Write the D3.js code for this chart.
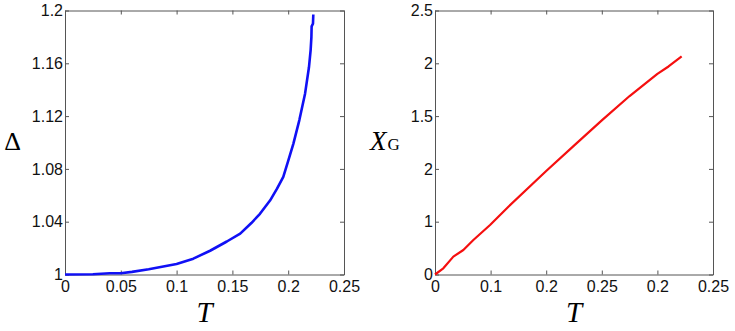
<!DOCTYPE html>
<html>
<head>
<meta charset="utf-8">
<script src="https://cdn.jsdelivr.net/npm/d3@7"></script>
<style>
  body { margin: 0; background: #fff; }
  svg text { font-family: "Liberation Sans", Arial, sans-serif; }
</style>
</head>
<body>
<div id="chart"></div>
<script>
// left panel: gap vs temperature
const deltaT = [0, 0.025, 0.04, 0.05, 0.06, 0.075, 0.1, 0.115, 0.13, 0.145, 0.157, 0.167, 0.1747, 0.1837, 0.19, 0.1956, 0.2, 0.2046, 0.21, 0.2151, 0.2186, 0.2201, 0.2208, 0.221, 0.2222, 0.2225];
const deltaV = [1, 1.0002, 1.001, 1.001, 1.002, 1.004, 1.008, 1.012, 1.018, 1.025, 1.031, 1.039, 1.046, 1.056, 1.065, 1.074, 1.086, 1.099, 1.117, 1.137, 1.157, 1.170, 1.180, 1.188, 1.190, 1.197];

// right panel: X_G vs temperature
const xgT = [0, 0.0075, 0.0165, 0.0255, 0.0345, 0.0495, 0.066, 0.1, 0.125, 0.15, 0.175, 0.2, 0.21, 0.2218];
const xgV = [0, 0.059, 0.169, 0.232, 0.327, 0.469, 0.642, 0.98, 1.22, 1.46, 1.69, 1.9, 1.97, 2.066];

const xTicks = [0, 0.05, 0.1, 0.15, 0.2, 0.25];
const leftXLabels = ['0', '0.05', '0.1', '0.15', '0.2', '0.25'];
const leftYTicks = [1, 1.04, 1.08, 1.12, 1.16, 1.2];
const leftYLabels = ['1', '1.04', '1.08', '1.12', '1.16', '1.2'];
const rightXLabels = ['0', '0.1', '0.2', '0.25', '0.2', '0.25'];
const rightYTicks = [0, 0.5, 1, 1.5, 2, 2.5];
const rightYLabels = ['0', '1', '2', '1.5', '2', '2.5'];

const svg = d3.select('#chart').append('svg')
  .attr('width', 735)
  .attr('height', 331);

function panel(opts) {
  const x = d3.scaleLinear().domain([0, 0.25]).range([opts.left, opts.right]);
  const y = d3.scaleLinear().domain(opts.yDomain).range([274.5, 10.5]);
  const g = svg.append('g');

  const tick = 4;
  const ax = (axis) => axis.tickSizeOuter(0);

  // bottom + left with labels, inward ticks
  g.append('g')
    .attr('transform', 'translate(0,274.5)')
    .call(ax(d3.axisBottom(x).tickValues(xTicks).tickSizeInner(-tick).tickPadding(6)
      .tickFormat((d, i) => opts.xLabels[i])));
  g.append('g')
    .attr('transform', `translate(${opts.left},0)`)
    .call(ax(d3.axisLeft(y).tickValues(opts.yTicks).tickSizeInner(-tick).tickPadding(2)
      .tickFormat((d, i) => opts.yLabels[i])));
  // top + right ticks only
  g.append('g')
    .attr('transform', 'translate(0,10.5)')
    .call(ax(d3.axisTop(x).tickValues(xTicks).tickSizeInner(-tick).tickFormat('')));
  g.append('g')
    .attr('transform', `translate(${opts.right},0)`)
    .call(ax(d3.axisRight(y).tickValues(opts.yTicks).tickSizeInner(-tick).tickFormat('')));

  g.selectAll('.domain, .tick line').attr('stroke', '#555');
  g.selectAll('.tick text')
    .attr('fill', '#111')
    .style('font-size', '16px')
    .style('font-family', '"Liberation Sans", Arial, sans-serif');

  const line = d3.line().x(d => x(d[0])).y(d => y(d[1]));
  g.append('path')
    .datum(d3.zip(opts.xs, opts.ys))
    .attr('fill', 'none')
    .attr('stroke', opts.color)
    .attr('stroke-width', opts.width)
    .attr('stroke-linejoin', 'round')
    .attr('d', line);

  g.append('text')
    .attr('x', (opts.left + opts.right) / 2)
    .attr('y', 322)
    .attr('text-anchor', 'middle')
    .style('font-family', '"Liberation Serif", "DejaVu Serif", serif')
    .style('font-style', 'italic')
    .style('font-size', '29px')
    .text('T');
  return g;
}

const gl = panel({
  left: 65, right: 344, yDomain: [1, 1.2], yTicks: leftYTicks, yLabels: leftYLabels,
  xLabels: leftXLabels, xs: deltaT, ys: deltaV, color: '#1010f5', width: 2.6
});
gl.append('text')
  .attr('x', 12.5)
  .attr('y', 150)
  .attr('text-anchor', 'middle')
  .style('font-family', '"Liberation Serif", "DejaVu Serif", serif')
  .style('font-size', '26px')
  .text('Δ');

const gr = panel({
  left: 435, right: 713, yDomain: [0, 2.5], yTicks: rightYTicks, yLabels: rightYLabels,
  xLabels: rightXLabels, xs: xgT, ys: xgV, color: '#f50f0f', width: 2.2
});
const xg = gr.append('text')
  .attr('x', 370)
  .attr('y', 150)
  .style('font-family', '"Liberation Serif", "DejaVu Serif", serif');
xg.append('tspan').style('font-style', 'italic').style('font-size', '27px').text('X');
xg.append('tspan').style('font-size', '17px').attr('dx', 1).text('G');
</script>
</body>
</html>
